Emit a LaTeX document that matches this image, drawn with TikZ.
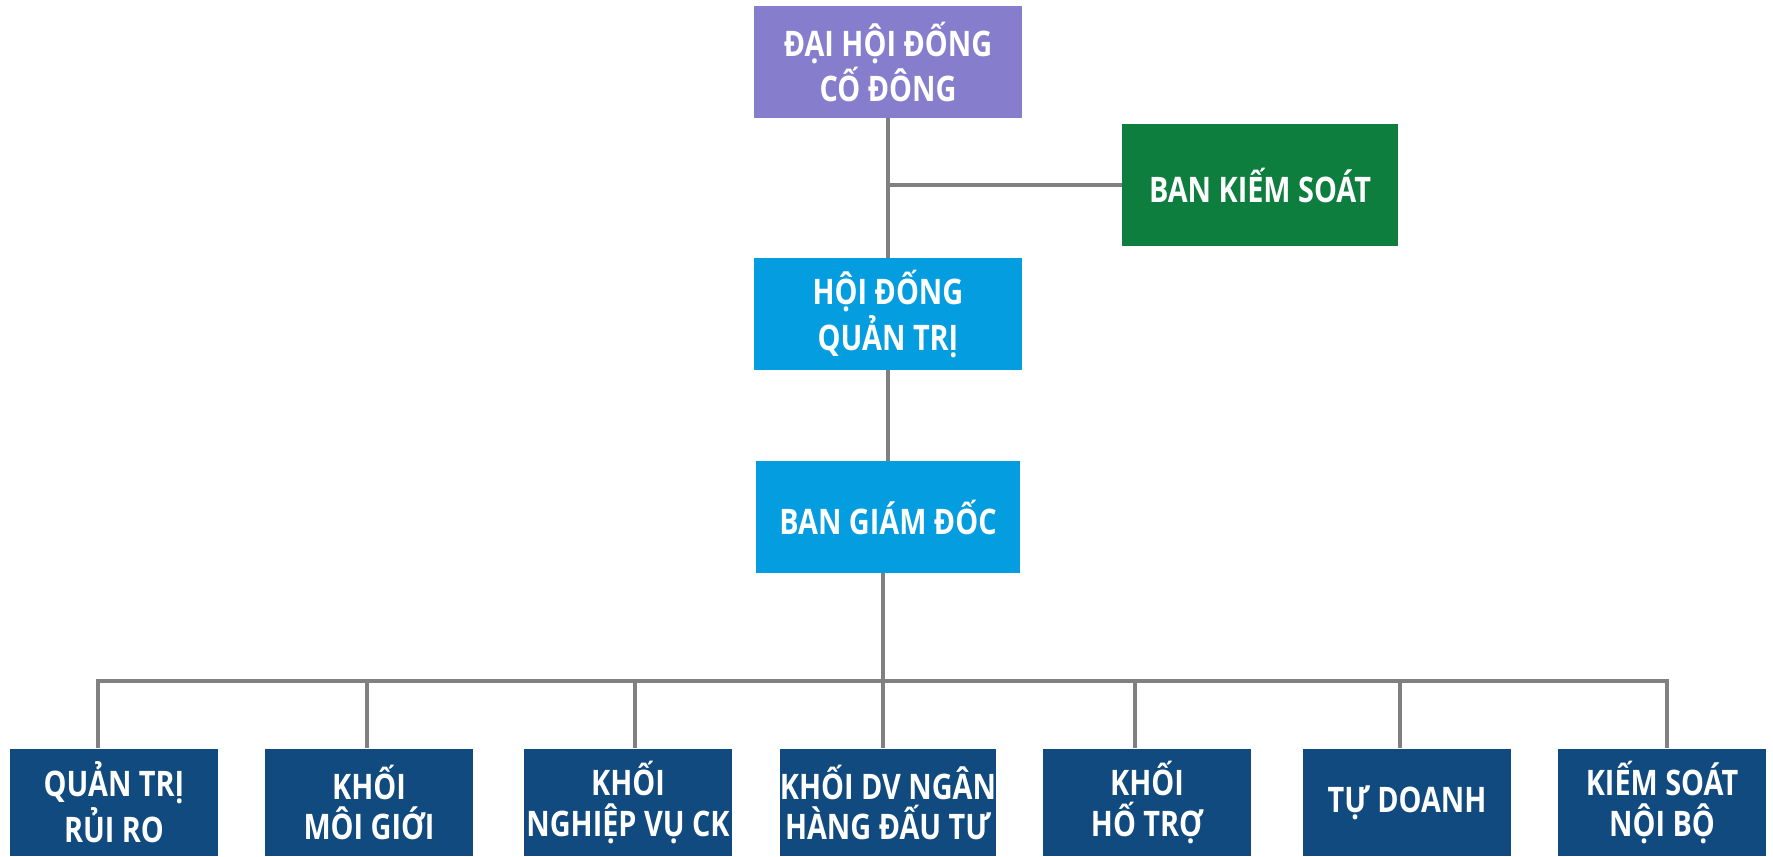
\documentclass[tikz,border=0pt]{standalone}
\usepackage{fontspec}
\setmainfont{Open Sans}[FakeStretch=0.82]
\usepackage{xcolor}
\usepackage{tikz}
\usetikzlibrary{positioning, calc}

\definecolor{dhcdpurple}{RGB}{134,125,204}
\definecolor{bksgreen}{RGB}{14,126,62}
\definecolor{mgmtblue}{RGB}{4,158,224}
\definecolor{unitnavy}{RGB}{17,74,126}
\definecolor{linkgray}{RGB}{128,128,128}

\begin{document}
\begin{tikzpicture}[
  x=0.01cm, y=-0.01cm,
  every node/.style={font=\bfseries\fontsize{10}{11.6}\selectfont, text=white, align=center, inner sep=0pt},
  box/.style={rectangle, fill=#1, minimum width=2.67cm, minimum height=1.11cm},
  unit/.style={rectangle, fill=unitnavy, minimum width=2.08cm, minimum height=1.07cm},
  link/.style={draw=linkgray, line width=1pt},
]
\useasboundingbox (0,0) rectangle (1773,856);

% top levels
\node[box=dhcdpurple] (dhcd) at (888,62)  {ĐẠI HỘI ĐỐNG\\CỐ ĐÔNG};
\node[box=bksgreen, minimum width=2.75cm, minimum height=1.22cm] (bks) at (1260,185) {BAN KIẾM SOÁT};
\node[box=mgmtblue] (hdqt) at (888,314) {HỘI ĐỐNG\\QUẢN TRỊ};
\node[box=mgmtblue, minimum width=2.63cm] (bgd) at (888,517) {BAN GIÁM ĐỐC};

% bottom units
\node[unit] (qtrr) at (114,802.5)  {QUẢN TRỊ\\RỦI RO};
\node[unit] (kmg)  at (369,802.5)  {KHỐI\\MÔI GIỚI};
\node[unit] (knv)  at (628,802.5)  {KHỐI\\NGHIỆP VỤ CK};
\node[unit] (kdv)  at (888,802.5)  {KHỐI DV NGÂN\\HÀNG ĐẤU TƯ};
\node[unit] (kht)  at (1147,802.5) {KHỐI\\HỐ TRỢ};
\node[unit] (td)   at (1407,802.5) {TỰ DOANH};
\node[unit] (ksnb) at (1662,802.5) {KIẾM SOÁT\\NỘI BỘ};

% connectors
\draw[link] (dhcd) -- (hdqt) -- (bgd);
\draw[link] (bks.west) -- (bks.west -| dhcd.south);
\coordinate (bus) at ([xshift=-0.05cm]bgd.south |- 0,681);
\draw[link] (bus) -- (bus |- bgd.south);
\foreach \u/\dx in {qtrr/-16, kmg/-2, knv/7, kdv/-5, kht/-12, td/-7, ksnb/5}
  \draw[link] ([xshift=\dx*0.01cm]\u.north) |- (bus);
\end{tikzpicture}
\end{document}
